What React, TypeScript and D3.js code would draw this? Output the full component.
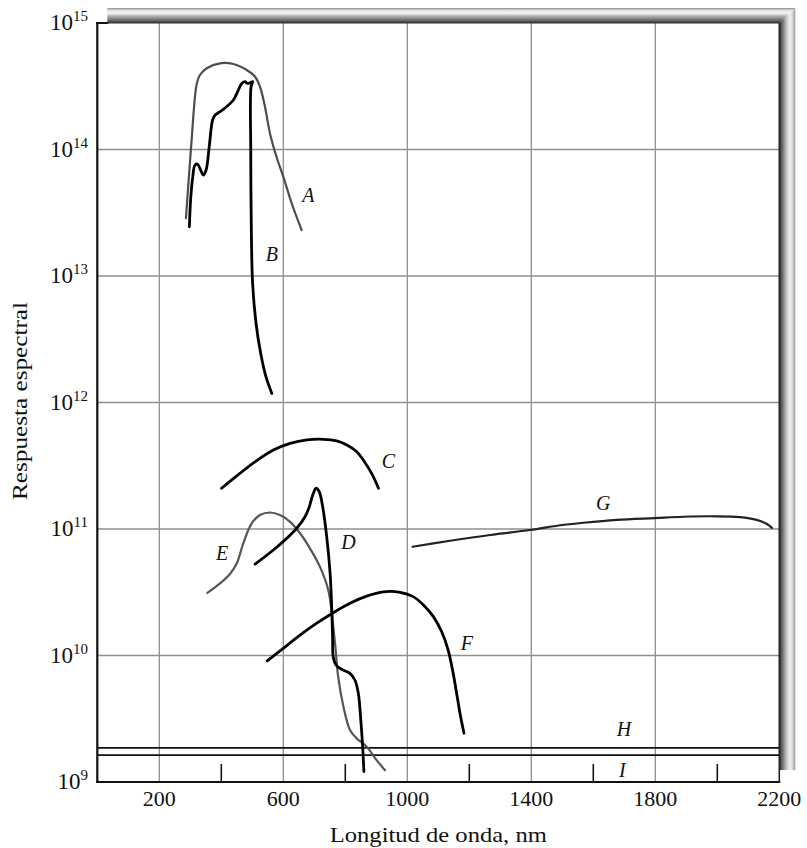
import React, { useRef, useEffect } from 'react';
import * as d3 from 'd3';

// 曲線データ: 波長 (nm) と分光応答
const curveA_nm = [286, 294, 305, 315, 321, 331, 353, 396, 439, 482, 509, 525, 541, 557, 578, 600, 627, 659];
const curveA_resp = [2.86e13, 5.41e13, 1.26e14, 2.61e14, 3.33e14, 3.88e14, 4.39e14, 4.80e14, 4.74e14, 4.25e14, 3.76e14, 3.13e14, 2.17e14, 1.34e14, 8.77e13, 6.10e13, 3.76e13, 2.31e13];

const curveB_nm = [297, 301, 308, 315, 323, 331, 342, 351, 361, 372, 380, 396, 417, 439, 455, 466, 477, 484, 493, 501, 496, 495, 497, 501, 512, 527, 544, 563];
const curveB_resp = [2.45e13, 3.99e13, 6.10e13, 7.53e13, 7.67e13, 7.10e13, 6.28e13, 6.89e13, 1.05e14, 1.71e14, 1.87e14, 1.99e14, 2.18e14, 2.46e14, 2.95e14, 3.33e14, 3.44e14, 3.33e14, 3.37e14, 3.44e14, 3.13e14, 9.91e13, 2.18e13, 8.75e12, 4.23e12, 2.45e12, 1.60e12, 1.18e12];

const curveC_nm = [401, 460, 514, 568, 622, 676, 729, 772, 805, 837, 858, 885, 907];
const curveC_resp = [2.10e11, 2.75e11, 3.47e11, 4.21e11, 4.75e11, 5.06e11, 5.12e11, 4.97e11, 4.61e11, 4.08e11, 3.51e11, 2.75e11, 2.10e11];

const curveD_nm = [509, 568, 611, 643, 670, 684, 695, 706, 716, 727, 740, 751, 756, 759, 761, 770, 788, 815, 831, 842, 850, 856, 860];
const curveD_resp = [5.28e10, 6.82e10, 8.43e10, 1.01e11, 1.25e11, 1.50e11, 1.86e11, 2.10e11, 1.97e11, 1.50e11, 8.69e10, 4.47e10, 2.43e10, 1.41e10, 9.79e9, 8.42e9, 7.78e9, 7.23e9, 6.40e9, 5.02e9, 3.09e9, 1.90e9, 1.21e9];

const curveE_nm = [355, 396, 428, 450, 471, 498, 525, 557, 589, 622, 654, 686, 718, 745, 757, 768, 777, 794, 815, 837, 869, 901, 928];
const curveE_resp = [3.13e10, 3.72e10, 4.41e10, 5.36e10, 7.71e10, 1.11e11, 1.29e11, 1.35e11, 1.29e11, 1.14e11, 9.25e10, 7.03e10, 5.04e10, 3.30e10, 2.09e10, 1.17e10, 6.80e9, 3.94e9, 2.58e9, 2.21e9, 1.90e9, 1.49e9, 1.24e9];

const curveF_nm = [548, 600, 654, 708, 761, 815, 869, 923, 977, 1019, 1052, 1084, 1111, 1132, 1148, 1161, 1172, 1183];
const curveF_resp = [9.06e9, 1.14e10, 1.45e10, 1.80e10, 2.18e10, 2.59e10, 2.95e10, 3.19e10, 3.16e10, 2.92e10, 2.51e10, 2.03e10, 1.54e10, 1.10e10, 7.23e9, 4.72e9, 3.28e9, 2.43e9];

const curveG_nm = [1017, 1138, 1267, 1396, 1493, 1568, 1676, 1799, 1890, 1998, 2073, 2127, 2159, 2176];
const curveG_resp = [7.24e10, 8.07e10, 8.97e10, 9.82e10, 1.07e11, 1.12e11, 1.18e11, 1.22e11, 1.25e11, 1.26e11, 1.24e11, 1.18e11, 1.10e11, 1.02e11];

// 水平線 H と I (全波長域で一定)
const levelH = 1.86e9;
const levelI = 1.63e9;

// 軸
const xTickLabels = [200, 600, 1000, 1400, 1800, 2200];
const xGridValues = [200, 600, 1000, 1400, 1800];
const xMinorTicks = [400, 800, 1200, 1600, 2000];
const yExponents = [9, 10, 11, 12, 13, 14, 15];

// 曲線ラベルの位置 (データ座標)
const labelNames = ['A', 'B', 'C', 'D', 'E', 'F', 'G', 'H', 'I'];
const labelNm = [681, 563, 939, 810, 403, 1192, 1632, 1699, 1694];
const labelResp = [3.86e13, 1.32e13, 3.02e11, 6.90e10, 5.69e10, 1.10e10, 1.41e11, 2.31e9, 1.10e9];

const W = 807;
const H = 848;

const App = () => {
  const svgRef = useRef<SVGSVGElement>(null);

  useEffect(() => {
    const svg = d3.select(svgRef.current);
    svg.selectAll('*').remove();

    const x = d3.scaleLinear().domain([0, 2200]).range([97.3, 779.3]);
    const y = d3.scaleLog().domain([1e9, 1e15]).range([782, 23]);

    const x0 = x(0), x1 = x(2200), yTop = y(1e15), yBot = y(1e9);
    const serif = '"Liberation Serif", "Times New Roman", serif';

    // グラデーション定義
    const defs = svg.append('defs');
    const gTop = defs.append('linearGradient').attr('id', 'barTop')
      .attr('x1', 0).attr('y1', 0).attr('x2', 0).attr('y2', 1);
    [[0, '#8a8a8a'], [0.15, '#e0e0e0'], [0.35, '#f6f6f6'], [0.55, '#b0b0b0'], [0.8, '#707070'], [1, '#333']]
      .forEach(([o, c]) => gTop.append('stop').attr('offset', o as number).attr('stop-color', c as string));
    const gRight = defs.append('linearGradient').attr('id', 'barRight')
      .attr('x1', 0).attr('y1', 0).attr('x2', 1).attr('y2', 0);
    [[0, '#2e2e2e'], [0.18, '#666'], [0.45, '#c4c4c4'], [0.68, '#f2f2f2'], [0.85, '#cfcfcf'], [1, '#999']]
      .forEach(([o, c]) => gRight.append('stop').attr('offset', o as number).attr('stop-color', c as string));

    // 立体的な枠 (上と右)
    const barW = 16;
    svg.append('polygon')
      .attr('points', `${x0 + 10},${yTop - 15} ${x1 + barW},${yTop - 15} ${x1},${yTop} ${x0 + 10},${yTop}`)
      .attr('fill', 'url(#barTop)');
    svg.append('polygon')
      .attr('points', `${x1 + barW},${yTop - 15} ${x1 + barW},${yBot - 12} ${x1},${yBot - 12} ${x1},${yTop}`)
      .attr('fill', 'url(#barRight)');

    // グリッド
    const grid = svg.append('g').attr('stroke', '#8f8f8f').attr('stroke-width', 1.3);
    xGridValues.forEach(v => {
      grid.append('line').attr('x1', x(v)).attr('x2', x(v)).attr('y1', yTop).attr('y2', yBot);
    });
    yExponents.slice(1, -1).forEach(e => {
      grid.append('line').attr('x1', x0).attr('x2', x1).attr('y1', y(10 ** e)).attr('y2', y(10 ** e));
    });

    // H, I
    [levelH, levelI].forEach(v => {
      svg.append('line').attr('x1', x0).attr('x2', x1).attr('y1', y(v)).attr('y2', y(v))
        .attr('stroke', '#111').attr('stroke-width', 1.6);
    });

    // 曲線
    const curves = [
      { nm: curveA_nm, resp: curveA_resp, color: '#4d4d4d', width: 2.2 },
      { nm: curveE_nm, resp: curveE_resp, color: '#555', width: 2.2 },
      { nm: curveG_nm, resp: curveG_resp, color: '#222', width: 2.2 },
      { nm: curveC_nm, resp: curveC_resp, color: '#000', width: 2.8 },
      { nm: curveD_nm, resp: curveD_resp, color: '#000', width: 2.8 },
      { nm: curveF_nm, resp: curveF_resp, color: '#000', width: 2.8 },
      { nm: curveB_nm, resp: curveB_resp, color: '#000', width: 2.8 },
    ];
    curves.forEach(c => {
      const pts: [number, number][] = c.nm.map((n, i) => [n, c.resp[i]]);
      const line = d3.line<[number, number]>()
        .x(d => x(d[0]))
        .y(d => y(d[1]))
        .curve(d3.curveCatmullRom.alpha(0.5));
      svg.append('path').attr('d', line(pts))
        .attr('fill', 'none').attr('stroke', c.color).attr('stroke-width', c.width)
        .attr('stroke-linejoin', 'round').attr('stroke-linecap', 'round');
    });

    // 枠線
    svg.append('line').attr('x1', x0).attr('x2', x0).attr('y1', yTop - 1).attr('y2', yBot + 1)
      .attr('stroke', '#111').attr('stroke-width', 2.2);
    svg.append('line').attr('x1', x0 - 1).attr('x2', x1 + 1).attr('y1', yBot).attr('y2', yBot)
      .attr('stroke', '#111').attr('stroke-width', 2.2);
    svg.append('line').attr('x1', x0 - 1).attr('x2', x0 + 11).attr('y1', yTop).attr('y2', yTop)
      .attr('stroke', '#111').attr('stroke-width', 2);
    svg.append('line').attr('x1', x0 + 10).attr('x2', x1).attr('y1', yTop).attr('y2', yTop)
      .attr('stroke', '#333').attr('stroke-width', 1.2);
    svg.append('line').attr('x1', x1).attr('x2', x1).attr('y1', yTop).attr('y2', yBot)
      .attr('stroke', '#222').attr('stroke-width', 1.6);

    // 下の小目盛り
    xMinorTicks.forEach(v => {
      svg.append('line').attr('x1', x(v)).attr('x2', x(v)).attr('y1', yBot).attr('y2', yBot - 18)
        .attr('stroke', '#111').attr('stroke-width', 1.6);
    });

    // X目盛りラベル
    xTickLabels.forEach(v => {
      svg.append('text').attr('x', x(v)).attr('y', yBot + 24)
        .attr('text-anchor', 'middle').attr('font-family', serif).attr('font-size', 22)
        .attr('fill', '#111').text(v);
    });

    // Y目盛りラベル 10^n
    yExponents.forEach(e => {
      const t = svg.append('text').attr('x', 88).attr('y', y(10 ** e) + 7)
        .attr('text-anchor', 'end').attr('font-family', serif).attr('fill', '#111');
      t.append('tspan').attr('font-size', 23).text('10');
      t.append('tspan').attr('font-size', 15).attr('dy', -9).text(e);
    });

    // 軸タイトル
    svg.append('text').attr('x', (x0 + x1) / 2).attr('y', 842)
      .attr('text-anchor', 'middle').attr('font-family', serif).attr('font-size', 21)
      .attr('textLength', 217).attr('lengthAdjust', 'spacingAndGlyphs')
      .attr('fill', '#111').text('Longitud de onda, nm');
    svg.append('text').attr('transform', 'translate(27,401) rotate(-90)')
      .attr('text-anchor', 'middle').attr('font-family', serif).attr('font-size', 21)
      .attr('textLength', 198).attr('lengthAdjust', 'spacingAndGlyphs')
      .attr('fill', '#111').text('Respuesta espectral');

    // 曲線ラベル
    labelNames.forEach((n, i) => {
      svg.append('text').attr('x', x(labelNm[i])).attr('y', y(labelResp[i]))
        .attr('text-anchor', 'middle').attr('font-family', serif).attr('font-style', 'italic')
        .attr('font-size', 20).attr('fill', '#111').text(n);
    });
  }, []);

  return (
    <div style={{ position: 'absolute', left: 0, top: 0, width: W, height: H, background: '#fff' }}>
      <svg ref={svgRef} width={W} height={H}></svg>
    </div>
  );
};

export default App;
